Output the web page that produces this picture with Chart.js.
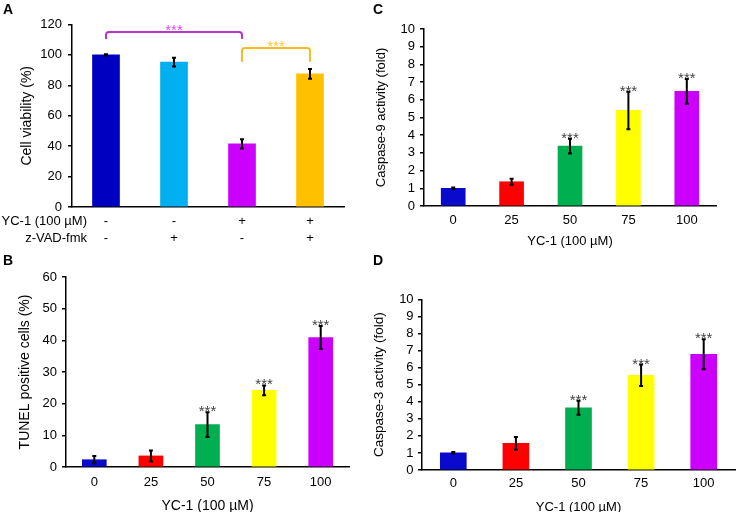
<!DOCTYPE html>
<html>
<head>
<meta charset="utf-8">
<script src="https://cdn.jsdelivr.net/npm/chart.js@4.4.0/dist/chart.umd.min.js"></script>
<style>
html, body { margin: 0; padding: 0; background: #fff; }
#fig { position: relative; width: 737px; height: 512px; overflow: hidden; font-family: "Liberation Sans", Arial, sans-serif; }
#fig canvas { position: absolute; }
.letter { position: absolute; font-weight: bold; font-size: 14px; line-height: 14px; color: #000; }
</style>
</head>
<body>
<div id="fig">
  <canvas id="chartA" width="360" height="250" style="left:0;top:0"></canvas>
  <canvas id="chartB" width="360" height="262" style="left:0;top:250px"></canvas>
  <canvas id="chartC" width="367" height="250" style="left:370px;top:0"></canvas>
  <canvas id="chartD" width="367" height="262" style="left:370px;top:250px"></canvas>
  <div class="letter" style="left:3px;top:2px">A</div>
  <div class="letter" style="left:3px;top:253px">B</div>
  <div class="letter" style="left:373px;top:2px">C</div>
  <div class="letter" style="left:373px;top:253px">D</div>
</div>
<script>
// Panel A: cell viability
const aRowTitles = ['YC-1 (100 µM)', 'z-VAD-fmk'];
const aLabels = [['-', '-'], ['-', '+'], ['+', '-'], ['+', '+']];
const aViability = [100, 95.3, 41.5, 87.5];
const aViabilityErr = [0.4, 2.9, 3.0, 3.2];
const aBracketPairs = [[0, 2], [2, 3]];
const aBracketTops = [115, 104.5];
const aBracketLegs = [110.5, 95.5];
const aBracketStars = ['***', '***'];

// Panels B-D: dose response
const doseLabels = ['0', '25', '50', '75', '100'];
const doseStars = ['', '', '***', '***', '***'];
const bTunel = [2.3, 3.5, 13.4, 24.2, 40.9];
const bTunelErr = [1.15, 1.75, 3.9, 1.55, 3.6];
const cCasp9 = [1.0, 1.37, 3.38, 5.4, 6.48];
const cCasp9Err = [0.04, 0.17, 0.42, 1.06, 0.7];
const dCasp3 = [1.01, 1.56, 3.64, 5.55, 6.78];
const dCasp3Err = [0.04, 0.37, 0.41, 0.63, 0.88];

const aColors = ['#0000c0', '#00b0f0', '#cc00ff', '#ffc000'];
const doseColors = ['#0a0acc', '#ff0000', '#00b050', '#ffff00', '#cc00ff'];
const bracketColors = ['#bb33cc', '#f8bb22'];
const bracketStarColors = ['#cc55dd', '#f8c840'];

const family = '"Liberation Sans", Arial, sans-serif';
const font = { family, size: 13 };
const starFont = '15px ' + family;

// error bars, significance stars, brackets and row titles
function marks(spec) {
    return {
        id: 'marks',
        afterDatasetsDraw(chart) {
            const { ctx, scales: { x, y } } = chart;
            ctx.save();
            ctx.lineWidth = 2;
            ctx.strokeStyle = '#000';
            spec.values.forEach((v, i) => {
                const px = x.getPixelForValue(i);
                const top = y.getPixelForValue(v + spec.errors[i]);
                const bot = y.getPixelForValue(v - spec.errors[i]);
                ctx.beginPath();
                ctx.moveTo(px, top); ctx.lineTo(px, bot);
                ctx.moveTo(px - 2, top); ctx.lineTo(px + 2, top);
                ctx.moveTo(px - 2, bot); ctx.lineTo(px + 2, bot);
                ctx.stroke();
                if (spec.stars && spec.stars[i]) {
                    ctx.fillStyle = '#444';
                    ctx.font = starFont;
                    ctx.textAlign = 'center';
                    ctx.textBaseline = 'alphabetic';
                    ctx.fillText(spec.stars[i], px, top + 4);
                }
            });

            if (spec.brackets) {
                spec.brackets.forEach(([i0, i1], k) => {
                    const x0 = x.getPixelForValue(i0);
                    const x1 = x.getPixelForValue(i1);
                    const yt = y.getPixelForValue(aBracketTops[k]);
                    const yl = y.getPixelForValue(aBracketLegs[k]);
                    ctx.strokeStyle = bracketColors[k];
                    ctx.lineWidth = 2;
                    ctx.beginPath();
                    ctx.moveTo(x0, yl);
                    ctx.arcTo(x0, yt, x1, yt, 3);
                    ctx.arcTo(x1, yt, x1, yl, 3);
                    ctx.lineTo(x1, yl);
                    ctx.stroke();
                    ctx.fillStyle = bracketStarColors[k];
                    ctx.font = starFont;
                    ctx.textAlign = 'center';
                    ctx.textBaseline = 'alphabetic';
                    ctx.fillText(aBracketStars[k], (x0 + x1) / 2, yt + 3);
                });
            }

            if (spec.rowTitles) {
                ctx.fillStyle = '#000';
                ctx.font = '13px ' + family;
                ctx.textAlign = 'right';
                ctx.textBaseline = 'middle';
                spec.rowTitles.forEach((t, i) => {
                    ctx.fillText(t, 87, chart.chartArea.bottom + 6 + 8.5 + 17 * i);
                });
            }
            ctx.restore();
        }
    };
}

function barChart(id, o) {
    return new Chart(document.getElementById(id), {
        type: 'bar',
        data: {
            labels: o.labels,
            datasets: [{
                data: o.values,
                backgroundColor: o.colors,
                barThickness: o.barWidth,
                categoryPercentage: 1,
                barPercentage: 1
            }]
        },
        options: {
            responsive: false,
            animation: false,
            events: [],
            layout: { padding: { left: 0, top: o.top, right: o.right, bottom: 0 } },
            plugins: { legend: { display: false }, tooltip: { enabled: false } },
            scales: {
                x: {
                    grid: { display: false, drawTicks: false },
                    border: { color: '#000', width: 1.5 },
                    ticks: {
                        color: '#000',
                        font: { ...font, lineHeight: 17 / 13 },
                        padding: o.xTickPad,
                        maxRotation: 0,
                        autoSkip: false
                    },
                    title: {
                        display: !!o.xTitle,
                        text: o.xTitle,
                        color: '#000',
                        font: { family, size: o.xTitleSize || 13 },
                        padding: { top: 0, bottom: o.xTitlePad }
                    },
                    afterFit: s => { s.height = o.xHeight; }
                },
                y: {
                    min: 0,
                    max: o.yMax,
                    ticks: { stepSize: o.yStep, autoSkip: false, color: '#000', font, padding: o.yTickPad },
                    grid: { drawOnChartArea: false, tickLength: 4, color: '#000', lineWidth: 1.5 },
                    border: { color: '#000', width: 1.5 },
                    title: {
                        display: true,
                        text: o.yTitle,
                        color: '#000',
                        font: { family, size: o.yTitleSize },
                        padding: { top: o.yTitlePad, bottom: 0 }
                    },
                    afterFit: s => { s.width = o.yWidth; }
                }
            }
        },
        plugins: [marks(o)]
    });
}

barChart('chartA', {
    labels: aLabels, values: aViability, errors: aViabilityErr, colors: aColors,
    brackets: aBracketPairs, rowTitles: aRowTitles,
    barWidth: 27, yMax: 120, yStep: 20, yTitle: 'Cell viability (%)', yTitleSize: 14,
    top: 24.5, right: 16, yWidth: 72, xHeight: 43,
    yTitlePad: 18.6, yTickPad: 6, xTickPad: 6
});

barChart('chartB', {
    labels: doseLabels, values: bTunel, errors: bTunelErr, colors: doseColors, stars: doseStars,
    barWidth: 24, yMax: 60, yStep: 10, yTitle: 'TUNEL positive cells (%)', yTitleSize: 14,
    xTitle: 'YC-1 (100 µM)', xTitleSize: 14,
    top: 27, right: 11, yWidth: 66, xHeight: 45,
    yTitlePad: 17.1, yTickPad: 5, xTickPad: 7, xTitlePad: -2.4
});

barChart('chartC', {
    labels: doseLabels, values: cCasp9, errors: cCasp9Err, colors: doseColors, stars: doseStars,
    barWidth: 24, yMax: 10, yStep: 1, yTitle: 'Caspase-9 activity (fold)', yTitleSize: 13,
    xTitle: 'YC-1 (100 µM)',
    top: 29, right: 21, yWidth: 54, xHeight: 44,
    yTitlePad: 3.4, yTickPad: 5, xTickPad: 6, xTitlePad: 1.2
});

barChart('chartD', {
    labels: doseLabels, values: dCasp3, errors: dCasp3Err, colors: doseColors, stars: doseStars,
    barWidth: 26, yMax: 10, yStep: 1, yTitle: 'Caspase-3 activity (fold)', yTitleSize: 13.5,
    xTitle: 'YC-1 (100 µM)',
    top: 49.3, right: 2, yWidth: 52, xHeight: 42,
    yTitlePad: 1.1, yTickPad: 4.4, xTickPad: 5, xTitlePad: -2.8
});
</script>
</body>
</html>
